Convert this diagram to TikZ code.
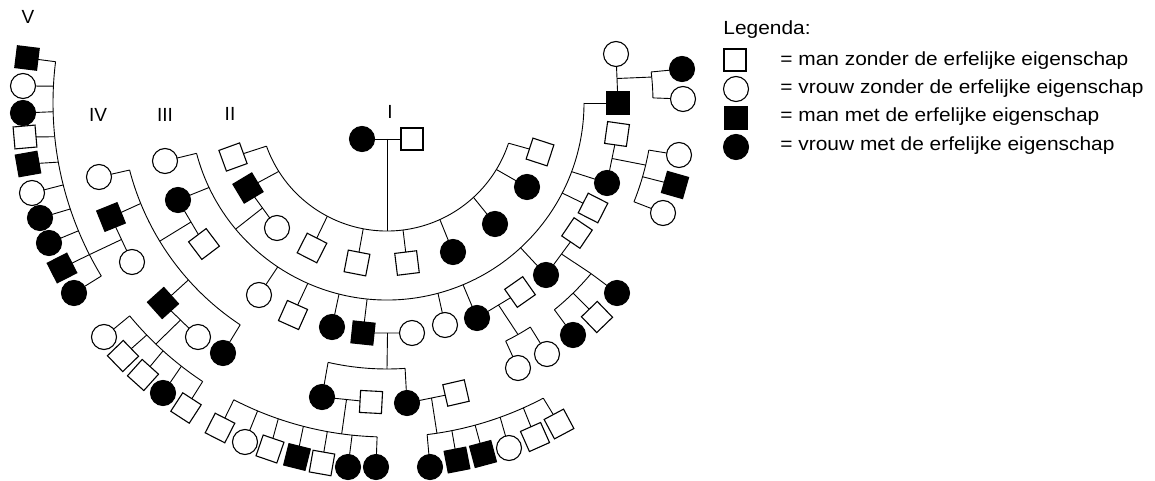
\documentclass[tikz,border=0pt]{standalone}
\usepackage{fontspec}
\usepackage{graphicx}
\setmainfont{Liberation Sans}
\usetikzlibrary{calc}
\newcommand\sib[3]{\draw (C) ++(#2:#1) arc[start angle=#2,end angle=#3,radius=#1];}
\newcommand\kid[3]{\path (C) ++(#2:#1) coordinate (k#3); \draw (k#3) -- (#3);}
\newcommand\mate[4]{\draw (#1) -- (#2); \path (C) ++(#4:#3) coordinate (d#1); \draw ($(#1)!0.5!(#2)$) -- (d#1);}
\newcommand\wide[1]{\scalebox{1.1}[1]{#1}}
\begin{document}
\begin{tikzpicture}[x=1pt,y=-1pt,line width=0.9pt,
  sym/.style={inner sep=0pt,outer sep=0pt,line width=1.1pt,draw=black},
  maleO/.style={sym,rectangle,minimum size=22pt,fill=white},
  maleF/.style={sym,rectangle,minimum size=22pt,fill=black},
  femO/.style={sym,circle,minimum size=25pt,fill=white},
  femF/.style={sym,circle,minimum size=25pt,fill=black},
  gen/.style={inner sep=0pt,font=\fontsize{19}{21}\selectfont},
  leg/.style={inner sep=0pt,anchor=base west,font=\fontsize{19}{21}\selectfont}]
\useasboundingbox (0,0) rectangle (1155,481);
\coordinate (C) at (387,103);

% generation labels
\node[gen] (gV) at (28,17) {V};
\node[gen] (gIV) at (98,115) {IV};
\node[gen] (gIII) at (165,115) {III};
\node[gen] (gII) at (230,114) {II};
\node[gen] (gI) at (390,112) {I};

% ---- nodes ----
% I
\node[femF] (I1) at (362,139) {};
\node[maleO] (I2) at (412,139) {};
% II
\node[maleO,rotate=20] (II1) at (233,157) {};
\node[maleF,rotate=31] (II2) at (248,188) {};
\node[femO] (II2w) at (277,228) {};
\node[maleO,rotate=-27] (II3) at (312,248) {};
\node[maleO,rotate=-11] (II4) at (357,263) {};
\node[maleO,rotate=7] (II5) at (407,263) {};
\node[femF] (II6) at (453,252) {};
\node[femF] (II7) at (495,224) {};
\node[femF] (II8) at (527,187) {};
\node[maleO,rotate=-18] (II9) at (540,152) {};
% III
\node[femO] (IIIa) at (165,161) {};
\node[femF] (IIIb) at (178,200) {};
\node[maleO,rotate=37] (IIIbw) at (204,244) {};
\node[femO] (IIId) at (259,295) {};
\node[maleO,rotate=-24] (IIIe) at (293,315) {};
\node[femF] (IIIf) at (332,327) {};
\node[maleF,rotate=-6] (IIIg) at (363,333) {};
\node[femO] (IIIgw) at (412,333) {};
\node[femO] (IIIh) at (445,325) {};
\node[femF] (IIIi) at (477,318) {};
\node[maleO,rotate=35] (IIIiw) at (520,292) {};
\node[femF] (IIIj) at (546,275) {};
\node[maleO,rotate=-34] (IIIjw) at (577,233) {};
\node[maleO,rotate=-27] (IIIk) at (593,208) {};
\node[femF] (IIIl) at (607,183) {};
\node[maleO,rotate=-8] (IIIlw) at (617,134) {};
\node[maleF] (IIIm) at (618,103) {};
\node[femO] (IIImw) at (616,54) {};
% IV
\node[femO] (IVa1) at (99,177) {};
\node[maleF,rotate=22] (IVa2) at (111,217) {};
\node[femO] (IVa2w) at (132,262) {};
\node[maleF,rotate=42] (IVa3) at (163,303) {};
\node[femO] (IVa3w) at (198,337) {};
\node[femF] (IVa4) at (223,353) {};
\node[femF] (IVb1) at (322,397) {};
\node[maleO,rotate=-3] (IVb1w) at (371,402) {};
\node[femF] (IVb2) at (407,403) {};
\node[maleO,rotate=13] (IVb2w) at (456,393) {};
\node[femO] (IVc1) at (518,368) {};
\node[femO] (IVc2) at (547,354) {};
\node[femF] (IVd1) at (573,335) {};
\node[maleO,rotate=44] (IVd2) at (597,317) {};
\node[femF] (IVd3) at (617,293) {};
\node[femO] (IVe1) at (679,155) {};
\node[maleF,rotate=-16] (IVe2) at (675,185) {};
\node[femO] (IVe3) at (663,213) {};
\node[femF] (IVf1) at (682,69) {};
\node[femO] (IVf2) at (683,99) {};
% V
\node[maleF,rotate=-7] (Va1) at (27,58) {};
\node[femO] (Va2) at (23,86) {};
\node[femF] (Va3) at (23,113) {};
\node[maleO,rotate=5] (Va4) at (25,137) {};
\node[maleF,rotate=10] (Va5) at (28,164) {};
\node[femO] (Va6) at (32,193) {};
\node[femF] (Va7) at (40,218) {};
\node[femF] (Va8) at (49,243) {};
\node[maleF,rotate=27] (Va9) at (62,268) {};
\node[femF] (Va10) at (74,293) {};
\node[femO] (Vb1) at (104,337) {};
\node[maleO,rotate=44] (Vb2) at (123,356) {};
\node[maleO,rotate=-42] (Vb3) at (143,375) {};
\node[femF] (Vb4) at (163,393) {};
\node[maleO,rotate=-33] (Vb5) at (186,408) {};
\node[maleO,rotate=-27] (Vc1) at (220,428) {};
\node[femO] (Vc2) at (245,442) {};
\node[maleO,rotate=-19] (Vc3) at (270,449) {};
\node[maleF,rotate=-14] (Vc4) at (297,457) {};
\node[maleO,rotate=-10] (Vc5) at (322,463) {};
\node[femF] (Vc6) at (348,467) {};
\node[femF] (Vc7) at (376,467) {};
\node[femF] (Vd1) at (430,467) {};
\node[maleF,rotate=11] (Vd2) at (457,460) {};
\node[maleF,rotate=15] (Vd3) at (483,454) {};
\node[femO] (Vd4) at (509,448) {};
\node[maleO,rotate=24] (Vd5) at (535,437) {};
\node[maleO,rotate=28] (Vd6) at (559,424) {};

% ---- sibship arcs ----
\sib{128}{160.3}{18.3}
\sib{197}{165.2}{0}
\sib{266}{165.4}{123.5}
\sib{266}{102.8}{86.1}
\sib{266}{63.5}{57.4}
\sib{266}{51}{39.9}
\sib{266}{21.8}{10.2}
\sib{266}{-1.1}{-6.7}
\sib{334}{187.1}{148.8}
\sib{334}{140.4}{123.5}
\sib{334}{117.3}{91.7}
\sib{334}{83.1}{62.1}

% ---- marriages and descent lines ----
\mate{I1}{I2}{128}{90}
\mate{II2}{II2w}{197}{140.2}
\mate{IIIb}{IIIbw}{266}{148.7}
\mate{IIIg}{IIIgw}{266}{90}
\mate{IIIi}{IIIiw}{266}{60.5}
\mate{IIIj}{IIIjw}{266}{39.9}
\mate{IIIl}{IIIlw}{266}{13.5}
\mate{IIIm}{IIImw}{266}{-5.6}
\mate{IVa2}{IVa2w}{334}{153}
\mate{IVa3}{IVa3w}{334}{133.8}
\mate{IVb1}{IVb1w}{334}{97.8}
\mate{IVb2}{IVb2w}{334}{81.4}

% ---- child stubs ----
\kid{128}{160.3}{II1}
\kid{128}{147.7}{II2}
\kid{128}{117.8}{II3}
\kid{128}{100.7}{II4}
\kid{128}{82.8}{II5}
\kid{128}{65.6}{II6}
\kid{128}{47.5}{II7}
\kid{128}{31.3}{II8}
\kid{128}{18.3}{II9}
\kid{197}{165.2}{IIIa}
\kid{197}{154.6}{IIIb}
\kid{197}{123.7}{IIId}
\kid{197}{113.7}{IIIe}
\kid{197}{104.1}{IIIf}
\kid{197}{95.8}{IIIg}
\kid{197}{75}{IIIh}
\kid{197}{67.3}{IIIi}
\kid{197}{47.3}{IIIj}
\kid{197}{27.2}{IIIk}
\kid{197}{20.4}{IIIl}
\kid{197}{0}{IIIm}
\kid{266}{165.4}{IVa1}
\kid{266}{157.8}{IVa2}
\kid{266}{138.3}{IVa3}
\kid{266}{123.5}{IVa4}
\kid{266}{102.8}{IVb1}
\kid{266}{86.1}{IVb2}
\kid{266}{63.5}{IVc1}
\kid{266}{57.4}{IVc2}
\kid{266}{51}{IVd1}
\kid{266}{45.6}{IVd2}
\kid{266}{39.9}{IVd3}
\kid{266}{10.2}{IVe1}
\kid{266}{16.1}{IVe2}
\kid{266}{21.8}{IVe3}
\kid{266}{-6.7}{IVf1}
\kid{266}{-1.1}{IVf2}
\kid{334}{187.1}{Va1}
\kid{334}{182.9}{Va2}
\kid{334}{178.5}{Va3}
\kid{334}{174.2}{Va4}
\kid{334}{169.8}{Va5}
\kid{334}{165.8}{Va6}
\kid{334}{161.5}{Va7}
\kid{334}{157.5}{Va8}
\kid{334}{153}{Va9}
\kid{334}{148.8}{Va10}
\kid{334}{140.4}{Vb1}
\kid{334}{136}{Vb2}
\kid{334}{132.1}{Vb3}
\kid{334}{128}{Vb4}
\kid{334}{123.5}{Vb5}
\kid{334}{117.3}{Vc1}
\kid{334}{112.8}{Vc2}
\kid{334}{109}{Vc3}
\kid{334}{104.5}{Vc4}
\kid{334}{100.3}{Vc5}
\kid{334}{96}{Vc6}
\kid{334}{91.7}{Vc7}
\kid{334}{83.1}{Vd1}
\kid{334}{78.8}{Vd2}
\kid{334}{74.7}{Vd3}
\kid{334}{70.2}{Vd4}
\kid{334}{65.9}{Vd5}
\kid{334}{62.1}{Vd6}

% ---- legend ----
\node[leg] (Lt) at (723,35) {\wide{Legenda:}};
\node[maleO] (L1) at (735,60) {};
\node[femO] (L2) at (736,89) {};
\node[maleF] (L3) at (736,118) {};
\node[femF] (L4) at (736,147) {};
\node[leg] (T1) at (780,66) {\wide{= man zonder de erfelijke eigenschap}};
\node[leg] (T2) at (780,94) {\wide{= vrouw zonder de erfelijke eigenschap}};
\node[leg] (T3) at (780,122) {\wide{= man met de erfelijke eigenschap}};
\node[leg] (T4) at (780,150) {\wide{= vrouw met de erfelijke eigenschap}};
\end{tikzpicture}
\end{document}
